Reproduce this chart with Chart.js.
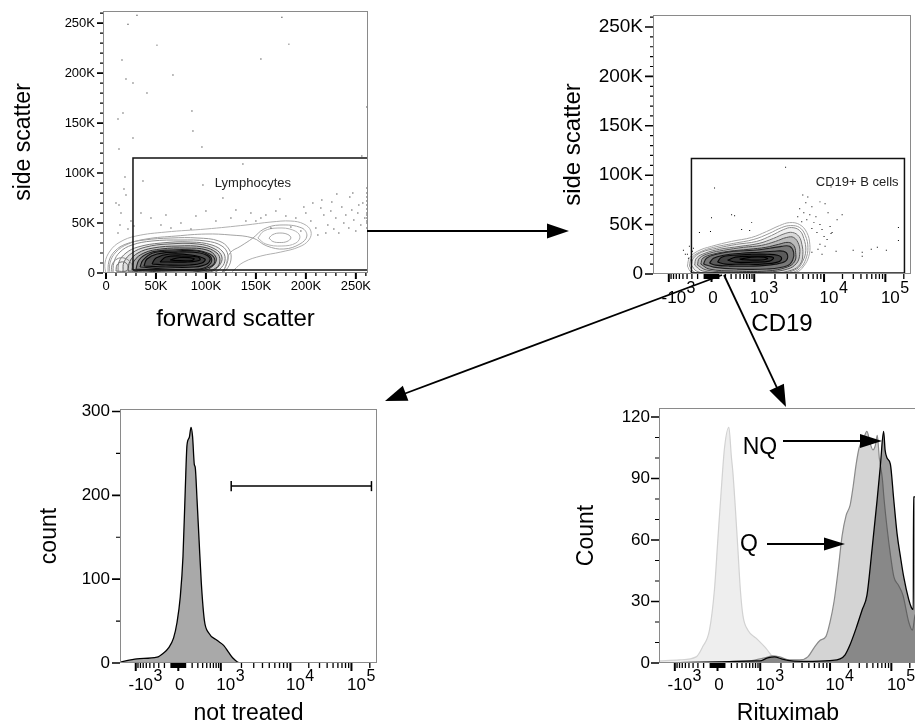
<!DOCTYPE html>
<html><head><meta charset="utf-8">
<script src="https://cdn.jsdelivr.net/npm/chart.js@4.4.1/dist/chart.umd.min.js"></script>
<style>
html,body{margin:0;padding:0;width:915px;height:724px;overflow:hidden;background:#fff;}
canvas{position:absolute;}
#ov{position:absolute;left:0;top:0;}
</style></head><body>
<canvas id="c1"></canvas><canvas id="c2"></canvas><canvas id="c3"></canvas><canvas id="c4"></canvas>
<svg id="ov" width="915" height="724" xmlns="http://www.w3.org/2000/svg"></svg>
<script>
// ================= DATA =================
// Panel 1: forward scatter vs side scatter (values in thousands)
const p1TickVals = [0, 50, 100, 150, 200, 250];
const p1TickLabels = ['0', '50K', '100K', '150K', '200K', '250K'];
const p1Gate = [[27,3],[262,3],[262,115],[27,115],[27,3]];
const p1GateName = 'Lymphocytes';
const p1Events = [[31,258],[22,249],[176,256],[51,228],[183,229],[16,213],[155,214],[67,198],[20,194],[27,190],[41,180],[86,162],[12,154],[17,160],[87,142],[27,135],[96,126],[13,124],[261,166],[256,117],[37,92],[19,96],[137,109],[97,88],[117,75],[174,74],[231,79],[247,80],[216,73],[207,70],
 [35,60],[45,55],[60,58],[75,50],[90,57],[100,62],[110,52],[125,55],[130,63],[145,60],[150,52],[160,58],[170,62],[180,57],[190,55],[200,60],[205,52],[210,45],[215,65],[218,58],[222,48],[225,62],[228,44],[230,55],[233,40],[236,66],[238,50],[240,58],[243,45],[246,63],[248,53],[250,42],[252,60],[255,48],[257,70],[259,55],[212,38],[220,40],[195,42],[12,40],[14,48],[15,60],[13,68],[20,78],[18,84],[10,70],[25,52],[28,47],[22,44],[55,48],[65,45],[85,44],[140,52],[155,55],[165,45],[185,46],[198,66],[226,71],[244,76],[253,68],
 [261,45],[261,50],[261,55],[261,60],[261,64],[261,68],[261,72],[261,76],[261,80],[261,85],[261,52],[261,58]];
const p1Contours = [
 [[0,-2],[-1,10],[4,22],[14,31],[30,37],[60,41],[100,44],[140,48],[165,51],[185,52],[198,49],[205,42],[203,33],[193,26],[175,21],[155,17],[138,11],[128,3],[124,-2]],
 [[4,-2],[4,10],[10,21],[22,29],[40,34],[70,37],[100,39],[125,38],[147,35],[161,27],[178,24],[194,29],[201,37],[196,45],[174,48],[158,44],[147,35],[135,27],[124,20],[120,8],[116,-2]],
 [[152,35],[158,42],[172,45],[187,43],[194,37],[190,30],[176,27],[160,29],[152,35]],
 [[163,35],[167,38.5],[174,40],[182,38.5],[185,35],[181,31.5],[174,30.5],[167,31.5],[163,35]],
 [[6,-1],[6,8],[11,14],[18,15],[25,10],[26,3],[23,-1]],
 [[10,2],[11,8],[15,11],[20,10],[22,6],[20,2],[10,2]],
 [[2,-2],[3,12],[9,22],[20,29],[38,33],[65,35],[92,35],[113,32],[123,24],[125,13],[120,3],[112,-2]],
 [[7,-2],[8,11],[14,21],[26,28],[46,32],[75,33],[100,32],[116,27],[122,18],[120,7],[114,-2]],
 [[12,-1],[13,11],[20,20],[32,26],[55,30],[85,31],[106,28],[117,21],[119,12],[114,4],[105,-1]],
 [[17,1],[18,11],[26,20],[40,26],[62,29],[92,29],[109,24],[116,16],[113,7],[104,1],[60,-1],[17,1]],
 [[22,2],[24,12],[32,20],[47,25],[72,27],[97,26],[111,20],[114,12],[110,5],[98,1],[60,0],[22,2]],
 [[26,3],[28,12],[38,20],[55,24],[80,25],[101,23],[110,16],[108,8],[96,2],[60,1],[26,3]],
 [[30,4],[33,13],[43,20],[62,23],[88,23],[104,19],[109,12],[104,6],[90,3],[58,3],[30,4]],
 [[34,6],[37,13],[47,20],[67,22],[91,22],[104,17],[105,10],[94,4],[60,4],[34,6]],
 [[38,7],[41,14],[51,19],[72,21],[94,20],[104,15],[101,9],[88,6],[60,6],[38,7]],
 [[46,9],[50,15],[64,19],[85,18],[99,14],[96,10],[84,8],[60,8],[46,9]],
 [[54,11],[60,16],[76,17],[92,16],[94,13],[82,11],[62,11],[54,11]],
 [[64,13],[74,15.5],[88,14.5],[86,12.5],[70,12.5],[64,13]]
];

// Panel 2: CD19 (biexponential) vs side scatter (thousands)
const p2Gate = [[-309,1],[205000,1],[205000,117],[-309,117],[-309,1]];
const p2GateName = 'CD19+ B cells';
const p2Events = [[2840,108],[41,87],[5880,78],[4990,80],[5510,72],[6720,68],[4510,66],[5160,62],[6280,60],[7670,58],[4230,58],[5690,55],[7180,52],[8750,50],[9360,45],[4820,53],[6720,46],[7930,42],[10000,38],[11200,35],[8750,30],[8200,25],[6720,22],[9360,20],[10390,28],[13520,42],[16330,55],[19730,60],[11620,62],[29860,24],[58900,25],[103800,24],[163400,47],[163400,34],[-171,42],[-14,43],[-488,24],[-350,28],[-393,20],[-272,26],[542,45],[886,52],[309,60],[41940,18],[12540,48],[0,57],[370,59],[806,44],[74000,27],[15720,23],[13000,41],[10390,71],[8750,73],[13000,88],[-440,20],[-290,23],[-370,16],[41940,22]];
const p2Contours = [
 [[-393,8],[-350,16],[-202,23],[0,28],[309,33],[886,37],[1515,43],[2330,49],[3240,52],[4510,50],[5690,42],[6280,30],[6080,18],[5160,8],[4090,2],[1787,-1],[0,-1],[-309,2],[-393,8]],
 [[-350,8],[-310,16],[-170,22],[30,27],[350,31],[980,35],[1650,41],[2500,47],[3350,49],[4510,47],[5420,39],[5900,27],[5500,15],[4600,6],[3300,1],[1200,-1],[0,-1],[-260,2],[-350,8]],
 [[-309,9],[-272,16],[-140,22],[68,26],[415,30],[1087,33],[1787,39],[2660,45],[3460,47],[4510,44],[5160,36],[5510,24],[4990,13],[4090,5],[2490,1],[697,0],[0,0],[-219,3],[-309,9]],
 [[-250,9],[-220,16],[-90,21],[110,25],[500,28],[1180,31],[1900,36],[2800,41],[3580,42],[4400,38],[4840,30],[5000,20],[4600,10],[3500,4],[2000,1],[500,1],[-120,3],[-250,9]],
 [[-202,9],[-171,16],[-27,21],[171,24],[600,27],[1283,29],[2040,33],[2940,37],[3700,37],[4370,30],[4510,20],[4090,11],[3030,5],[1515,2],[309,2],[-68,4],[-202,9]],
 [[-150,10],[-120,16],[20,20],[260,23],[780,25],[1480,27],[2250,30],[3100,32],[3700,29],[3950,22],[3850,13],[3000,7],[1515,3],[350,3],[-30,5],[-150,10]],
 [[-111,10],[-68,16],[68,20],[350,23],[972,24],[1673,26],[2490,28],[3240,28],[3700,22],[3580,14],[2940,8],[1515,5],[415,5],[27,7],[-111,10]],
 [[-27,11],[27,16],[171,19],[542,21],[1200,22],[1909,23],[2660,23],[3030,19],[2840,13],[2040,10],[972,8],[272,8],[54,9],[-27,11]],
 [[82,12],[140,17],[350,19],[886,20],[1566,20],[2180,19],[2490,16],[2180,12],[1283,10],[542,10],[202,10],[82,12]],
 [[236,14],[393,17],[886,18],[1464,18],[1909,16.5],[1673,13],[972,12],[393,12],[236,14]],
 [[488,15],[886,17],[1370,17],[1566,15.5],[1123,14],[600,14.5],[488,15]]
];

// Biexponential tick labels (shared by the three fluorescence axes)
const bxTickVals = [-1000, 0, 1000, 10000, 100000];
const bxTickBase = ['-10', '0', '10', '10', '10'];
const bxTickExp = ['3', '', '3', '4', '5'];
const bxMinorVals = [-900,-800,-700,-600,-500,-400,-300,-200,-100,-90,-80,-70,-60,-50,-40,-30,-20,-10,10,20,30,40,50,60,70,80,90,100,200,300,400,500,600,700,800,900,2000,3000,4000,5000,6000,7000,8000,9000,20000,30000,40000,50000,60000,70000,80000,90000,200000];

// Panel 3: not treated histogram
const p3TickVals = [0, 100, 200, 300];
const p3MinorVals = [50, 150, 250];
const p3Hist = [[-1700,1],[-944,5],[-335,7],[-214,12],[-136,18],[-64,30],[-18,48],[27,79],[64,127],[96,207],[121,260],[155,269],[182,281],[207,270],[236,237],[253,233],[285,195],[324,147],[370,96],[440,51],[550,36],[834,27],[1100,21],[1296,13],[1500,6],[1909,0],[2950,0]];
const p3RangeGate = {from: 1420, to: 212700, count: 211};

// Panel 4: Rituximab histograms
const p4TickVals = [0, 30, 60, 90, 120];
const p4MinorVals = [10, 20, 40, 50, 70, 80, 100, 110];
const p4Control = [[-1700,1],[-806,1.5],[-335,3],[-214,8],[-111,16],[-41,36],[4,60],[50,84],[96,105],[160,115],[198,101],[224,93],[266,76],[316,55],[364,36],[423,23],[550,16],[834,12],[1227,7],[1528,3],[2130,1],[4090,0]];
const p4Q = [[-1700,0],[27,0.5],[600,1],[1162,2.5],[1514,3.5],[1909,3],[2660,1.5],[3700,1.5],[4826,3],[6080,8],[7180,11],[8760,13],[10000,20],[11620,30],[13520,45],[15720,62],[18280,72],[21260,77],[23790,86],[26670,97],[29860,105],[34740,109],[39960,113],[45250,107],[50100,104],[54660,106],[59000,111],[63640,100],[71260,90],[76000,80],[85070,66],[96400,53],[110000,42],[130000,38],[155000,33],[192000,20],[221000,16],[247500,24],[262144,24]];
const p4NQ = [[-1700,0],[27,0.5],[806,1],[972,1],[1283,2.5],[1620,3],[2040,2],[2850,1],[4370,0.8],[10000,1.2],[14570,2],[17600,4],[21260,9],[26670,17],[33440,26],[39960,33],[48250,55],[58350,79],[66100,96],[74830,113],[79000,104],[85070,100],[96400,97],[109200,80],[124100,63],[140500,52],[159200,42],[192000,31],[212600,27],[228000,26],[230000,81],[262144,81]];

// ================= BIEXPONENTIAL SCALE =================
const BX_U = [-6.5023, -4.1999, -1.9189, 0, 1.9189, 4.1999, 6.5023];
const BX_D = [-173, -112, -42.5, 0, 42.5, 112, 173];
function biex(v) {
  const u = Math.asinh(v / 300);
  let i;
  if (u <= BX_U[1]) i = 0; else if (u >= BX_U[5]) i = 5;
  else { for (i = 1; i < 5; i++) if (u < BX_U[i + 1]) break; }
  const t = (u - BX_U[i]) / (BX_U[i + 1] - BX_U[i]);
  return BX_D[i] + t * (BX_D[i + 1] - BX_D[i]);
}
class BiexScale extends Chart.Scale {
  static id = 'biex';
  static defaults = {};
  determineDataLimits() { this.min = this.options.min; this.max = this.options.max; }
  buildTicks() { return bxTickVals.map(v => ({ value: v })); }
  configure() { super.configure(); this._d0 = biex(this.min); this._d1 = biex(this.max); }
  getLabelForValue(v) { return String(v); }
  getPixelForValue(v) { return this.getPixelForDecimal((biex(v) - this._d0) / (this._d1 - this._d0)); }
  getPixelForTick(i) { const t = this.ticks; return (i >= 0 && i < t.length) ? this.getPixelForValue(t[i].value) : NaN; }
  getValueForPixel(p) {
    const target = this._d0 + this.getDecimalForPixel(p) * (this._d1 - this._d0);
    let lo = this.min, hi = this.max;
    for (let k = 0; k < 60; k++) { const m = (lo + hi) / 2; if (biex(m) < target) lo = m; else hi = m; }
    return (lo + hi) / 2;
  }
}
Chart.register(BiexScale);

// ================= HELPERS =================
const FF = '"Liberation Sans", Arial, Helvetica, sans-serif';
Chart.defaults.font.family = FF;
Chart.defaults.color = '#000';
const pts = a => a.map(p => ({ x: p[0], y: p[1] }));
function minorsBetween(lo, hi, step, majors) {
  const out = [];
  for (let v = lo; v <= hi; v += step) if (!majors.includes(v)) out.push(v);
  return out;
}

const decor = {
  id: 'decor',
  afterDraw(chart, args, o) {
    const { ctx, chartArea: a } = chart;
    const xs = chart.scales.x, ys = chart.scales.y;
    ctx.save();
    ctx.strokeStyle = '#8a8a8a'; ctx.lineWidth = 1;
    ctx.strokeRect(a.left + 0.5, a.top + 0.5, a.right - a.left - 1, a.bottom - a.top - 1);
    ctx.strokeStyle = '#000';
    const tick = (isX, vals, len, w) => {
      ctx.lineWidth = w; ctx.beginPath();
      vals.forEach(v => {
        if (isX) {
          const p = xs.getPixelForValue(v);
          if (p < a.left - 0.5 || p > a.right + 0.5) return;
          ctx.moveTo(p, a.bottom); ctx.lineTo(p, a.bottom + len);
        } else {
          const p = ys.getPixelForValue(v);
          if (p < a.top - 0.5 || p > a.bottom + 0.5) return;
          ctx.moveTo(a.left, p); ctx.lineTo(a.left - len, p);
        }
      });
      ctx.stroke();
    };
    tick(true, o.xMajor, o.xMajLen, 2);
    tick(true, o.xMinor, o.xMinLen, 1.3);
    tick(false, o.yMajor, o.yMajLen, 1.6);
    tick(false, o.yMinor, o.yMinLen, 1.2);
    if (o.exp) {
      ctx.fillStyle = '#000'; ctx.textBaseline = 'alphabetic';
      bxTickVals.forEach((v, i) => {
        const px = xs.getPixelForValue(v);
        ctx.font = o.exp.baseSize + 'px ' + FF;
        const bw = ctx.measureText(bxTickBase[i]).width;
        const shift = bxTickExp[i] ? o.exp.shift : 1.5;
        const x0 = px + shift - bw / 2;
        ctx.textAlign = 'left';
        ctx.fillText(bxTickBase[i], x0, a.bottom + o.exp.baseDy);
        if (bxTickExp[i]) {
          ctx.font = o.exp.expSize + 'px ' + FF;
          ctx.fillText(bxTickExp[i], x0 + bw + 0.5, a.bottom + o.exp.expDy);
        }
      });
    }
    (o.notes || []).forEach(n => {
      ctx.font = n.size + 'px ' + FF; ctx.fillStyle = '#222';
      ctx.textAlign = 'center'; ctx.textBaseline = 'middle';
      ctx.fillText(n.text, xs.getPixelForValue(n.x), ys.getPixelForValue(n.y));
    });
    ctx.restore();
  }
};

function setup(id, L, T, R, B, yW, xH) {
  const padT = 30, padR = 30;
  const cv = document.getElementById(id);
  const left = L - yW, top = T - padT;
  cv.width = R - left + padR; cv.height = B - top + xH;
  cv.style.left = left + 'px'; cv.style.top = top + 'px';
  return { ctx: cv.getContext('2d'), padding: { left: 0, top: padT, right: padR, bottom: 0 } };
}
function yAxis(min, max, vals, labels, size, pad, title, tSize, tPad, W) {
  return {
    type: 'linear', position: 'left', min, max,
    afterBuildTicks: s => { s.ticks = vals.map(v => ({ value: v })); },
    afterFit: s => { s.width = W; },
    grid: { display: false, drawTicks: false }, border: { display: false },
    ticks: { font: { size }, padding: pad, autoSkip: false,
      callback: (v) => labels ? labels[vals.indexOf(v)] : String(v) },
    title: { display: true, text: title, font: { size: tSize }, padding: { top: tPad, bottom: 0 } }
  };
}
function baseOpts(pad, scales, decorOpts) {
  return {
    responsive: false, animation: false, events: [],
    layout: { padding: pad },
    plugins: { legend: { display: false }, tooltip: { enabled: false }, decor: decorOpts },
    scales
  };
}
function contourSets(list, colors, fills, widths) {
  return list.map((c, i) => ({
    type: 'line', data: pts(c), borderColor: colors[i], borderWidth: widths[i],
    backgroundColor: fills[i] || 'transparent', fill: fills[i] ? 'shape' : false,
    pointRadius: 0, tension: 0.4
  }));
}

// ================= PANEL 1 =================
(function () {
  const s = setup('c1', 103, 11, 368, 273, 103, 62);
  const p1Minor = minorsBetween(0, 260, 10, p1TickVals);
  const colors = ['#b0b0b0','#a4a4a4','#b4b4b4','#a8a8a8','#8a8a8a','#6e6e6e',
                  '#9a9a9a','#8c8c8c','#7a7a7a','#686868','#555','#444','#333','#262626','#1a1a1a','#0e0e0e','#050505','#000'];
  const fills = [null,null,null,null,null,null,
                 null,null,'rgba(0,0,0,0.06)','rgba(0,0,0,0.08)','rgba(0,0,0,0.12)','rgba(0,0,0,0.15)','rgba(0,0,0,0.2)','rgba(0,0,0,0.22)','rgba(0,0,0,0.25)','rgba(0,0,0,0.25)','rgba(0,0,0,0.25)',null];
  const widths = [1,1,1,1,1,1, 1,1,1,1,1,1,1.1,1.1,1.2,1.2,1.2,1.2];
  const datasets = [
    { type: 'line', data: pts(p1Gate), borderColor: '#111', borderWidth: 1.5, pointRadius: 0, fill: false, tension: 0 },
    { type: 'scatter', data: pts(p1Events), pointStyle: 'rect', pointRadius: 0.7, backgroundColor: '#000', borderWidth: 0 },
    ...contourSets(p1Contours, colors, fills, widths)
  ];
  new Chart(s.ctx, {
    type: 'scatter', data: { datasets },
    options: baseOpts(s.padding, {
      x: {
        type: 'linear', position: 'bottom', min: -3, max: 262.144,
        afterBuildTicks: sc => { sc.ticks = p1TickVals.map(v => ({ value: v })); },
        afterFit: sc => { sc.height = 62; },
        grid: { display: false, drawTicks: false }, border: { display: false },
        ticks: { font: { size: 13 }, padding: 6, autoSkip: false, maxRotation: 0,
          callback: v => p1TickLabels[p1TickVals.indexOf(v)] },
        title: { display: true, text: 'forward scatter', font: { size: 24 }, padding: { top: 0, bottom: 1 } }
      },
      y: yAxis(0, 262.144, p1TickVals, p1TickLabels, 13, 8, 'side scatter', 23, 10, 103)
    }, { xMajor: p1TickVals, xMinor: p1Minor, xMajLen: 6, xMinLen: 3, yMajor: p1TickVals, yMinor: p1Minor, yMajLen: 6, yMinLen: 3,
         notes: [{ text: p1GateName, x: 147, y: 90, size: 13 }] }),
    plugins: [decor]
  });
})();

// ================= PANEL 2 =================
(function () {
  const s = setup('c2', 653, 15, 911, 274, 98, 66);
  const yMinor = minorsBetween(0, 260, 10, p1TickVals);
  const colors = ['#a8a8a8','#9a9a9a','#8a8a8a','#777','#666','#4e4e4e','#3a3a3a','#262626','#151515','#080808','#000'];
  const fills = [null,null,'rgba(0,0,0,0.06)','rgba(0,0,0,0.1)','rgba(0,0,0,0.14)','rgba(0,0,0,0.18)','rgba(0,0,0,0.22)','rgba(0,0,0,0.25)','rgba(0,0,0,0.25)','rgba(0,0,0,0.22)',null];
  const widths = [1,1,1,1,1,1,1.1,1.1,1.2,1.2,1.2];
  const datasets = [
    { type: 'line', data: pts(p2Gate), borderColor: '#111', borderWidth: 1.5, pointRadius: 0, fill: false, tension: 0 },
    { type: 'scatter', data: pts(p2Events), pointStyle: 'rect', pointRadius: 0.7, backgroundColor: '#000', borderWidth: 0 },
    ...contourSets(p2Contours, colors, fills, widths)
  ];
  new Chart(s.ctx, {
    type: 'scatter', data: { datasets },
    options: baseOpts(s.padding, {
      x: {
        type: 'biex', position: 'bottom', min: -1700, max: 262144,
        afterFit: sc => { sc.height = 66; },
        grid: { display: false, drawTicks: false }, border: { display: false },
        ticks: { display: false },
        title: { display: true, text: 'CD19', font: { size: 24 }, padding: { top: 0, bottom: 1 } }
      },
      y: yAxis(0, 262.144, p1TickVals, p1TickLabels, 19, 10, 'side scatter', 24, 4, 98)
    }, { xMajor: bxTickVals, xMinor: bxMinorVals, xMajLen: 8, xMinLen: 5, yMajor: p1TickVals, yMinor: yMinor, yMajLen: 8, yMinLen: 3,
         exp: { baseSize: 17, expSize: 16, baseDy: 29, expDy: 19, shift: 5 },
         notes: [{ text: p2GateName, x: 34700, y: 93, size: 13 }] }),
    plugins: [decor]
  });
})();

// ================= PANEL 3 =================
(function () {
  const s = setup('c3', 120, 409, 377, 663, 90, 64);
  const g = p3RangeGate;
  const datasets = [
    { type: 'line', data: pts([[g.from, g.count], [g.to, g.count]]), borderColor: '#000', borderWidth: 1.5, pointRadius: 0, fill: false },
    { type: 'line', data: pts([[g.from, g.count - 6], [g.from, g.count + 6]]), borderColor: '#000', borderWidth: 1.5, pointRadius: 0, fill: false },
    { type: 'line', data: pts([[g.to, g.count - 6], [g.to, g.count + 6]]), borderColor: '#000', borderWidth: 1.5, pointRadius: 0, fill: false },
    { type: 'line', data: pts(p3Hist), borderColor: '#000', borderWidth: 1.3, backgroundColor: '#a9a9a9', fill: 'origin', pointRadius: 0, cubicInterpolationMode: 'monotone' }
  ];
  new Chart(s.ctx, {
    type: 'scatter', data: { datasets },
    options: baseOpts(s.padding, {
      x: {
        type: 'biex', position: 'bottom', min: -1700, max: 262144,
        afterFit: sc => { sc.height = 64; },
        grid: { display: false, drawTicks: false }, border: { display: false },
        ticks: { display: false },
        title: { display: true, text: 'not treated', font: { size: 23 }, padding: { top: 0, bottom: 0 } }
      },
      y: yAxis(0, 303, p3TickVals, null, 17, 10, 'count', 23, 6, 90)
    }, { xMajor: bxTickVals, xMinor: bxMinorVals, xMajLen: 8, xMinLen: 5, yMajor: p3TickVals, yMinor: p3MinorVals, yMajLen: 8, yMinLen: 4,
         exp: { baseSize: 17, expSize: 16, baseDy: 27, expDy: 18, shift: 5 } }),
    plugins: [decor]
  });
})();

// ================= PANEL 4 =================
(function () {
  const s = setup('c4', 659, 408, 917, 663, 89, 64);
  const datasets = [
    { type: 'line', data: pts(p4NQ), borderColor: '#000', borderWidth: 1.3, backgroundColor: 'rgba(60,60,60,0.5)', fill: 'origin', pointRadius: 0, cubicInterpolationMode: 'monotone' },
    { type: 'line', data: pts(p4Q), borderColor: '#8a8a8a', borderWidth: 1.2, backgroundColor: '#d4d4d4', fill: 'origin', pointRadius: 0, cubicInterpolationMode: 'monotone' },
    { type: 'line', data: pts(p4Control), borderColor: '#d2d2d2', borderWidth: 1.2, backgroundColor: '#eeeeee', fill: 'origin', pointRadius: 0, cubicInterpolationMode: 'monotone' }
  ];
  new Chart(s.ctx, {
    type: 'scatter', data: { datasets },
    options: baseOpts(s.padding, {
      x: {
        type: 'biex', position: 'bottom', min: -1700, max: 262144,
        afterFit: sc => { sc.height = 64; },
        grid: { display: false, drawTicks: false }, border: { display: false },
        ticks: { display: false },
        title: { display: true, text: 'Rituximab', font: { size: 23 }, padding: { top: 0, bottom: 0 } }
      },
      y: yAxis(0, 124.4, p4TickVals, null, 17, 9, 'Count', 23, 3, 89)
    }, { xMajor: bxTickVals, xMinor: bxMinorVals, xMajLen: 8, xMinLen: 5, yMajor: p4TickVals, yMinor: p4MinorVals, yMajLen: 8, yMinLen: 4,
         exp: { baseSize: 17, expSize: 16, baseDy: 27, expDy: 18, shift: 5 } }),
    plugins: [decor]
  });
})();

// ================= OVERLAY: arrows between panels, NQ / Q labels =================
(function () {
  const svg = document.getElementById('ov');
  const NS = 'http://www.w3.org/2000/svg';
  function arrow(x1, y1, x2, y2, hl, hw, w) {
    const dx = x2 - x1, dy = y2 - y1, L = Math.hypot(dx, dy), ux = dx / L, uy = dy / L;
    const bx = x2 - ux * hl, by = y2 - uy * hl;
    const ln = document.createElementNS(NS, 'line');
    ln.setAttribute('x1', x1); ln.setAttribute('y1', y1);
    ln.setAttribute('x2', bx + ux * 2); ln.setAttribute('y2', by + uy * 2);
    ln.setAttribute('stroke', '#000'); ln.setAttribute('stroke-width', w);
    svg.appendChild(ln);
    const pg = document.createElementNS(NS, 'polygon');
    pg.setAttribute('points', `${x2},${y2} ${bx - uy * hw},${by + ux * hw} ${bx + uy * hw},${by - ux * hw}`);
    pg.setAttribute('fill', '#000');
    svg.appendChild(pg);
  }
  function label(txt, x, y, size) {
    const t = document.createElementNS(NS, 'text');
    t.setAttribute('x', x); t.setAttribute('y', y);
    t.setAttribute('text-anchor', 'middle');
    t.setAttribute('font-family', 'Liberation Sans, Arial, sans-serif');
    t.setAttribute('font-size', size);
    t.textContent = txt;
    svg.appendChild(t);
  }
  arrow(367, 231, 569, 231, 22, 7.5, 1.8);
  arrow(722, 275, 385, 401, 22, 8, 1.8);
  arrow(724, 275, 786, 407, 22, 8, 1.8);
  arrow(783, 441, 882, 441, 22, 7, 1.8);
  arrow(767, 544, 845, 544, 21, 6.5, 1.8);
  label('NQ', 760, 454, 23);
  label('Q', 749, 551, 23);
})();
</script>
</body></html>
